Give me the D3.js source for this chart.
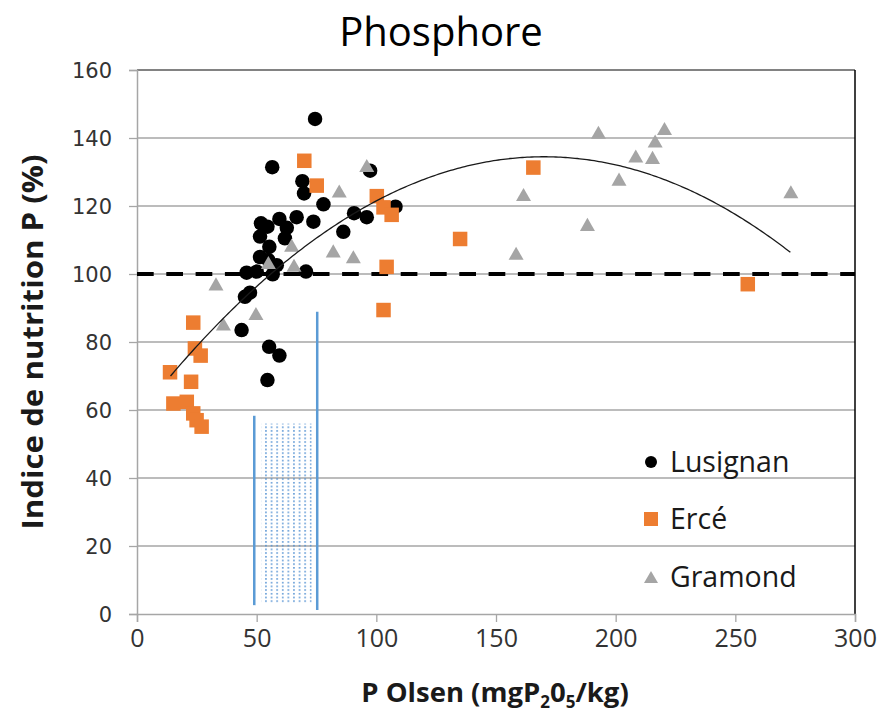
<!DOCTYPE html>
<html>
<head>
<meta charset="utf-8">
<script src="https://cdn.jsdelivr.net/npm/d3@7"></script>
<style>
  html, body { margin: 0; padding: 0; background: #fff; }
  svg { display: block; }
</style>
</head>
<body>
<svg id="chart" width="881" height="716"></svg>
<script>
// Site observations: [P Olsen (mg P2O5/kg), Indice de nutrition P (%)]
const lusignan = [
  [74.4,145.6],[56.5,131.4],[69.1,127.3],[69.8,123.7],[77.9,120.5],[97.4,130.4],
  [108,119.8],[59.5,116.2],[66.7,116.7],[73.7,115.4],[51.8,114.9],[54.5,113.9],
  [62.6,113.6],[51.4,111],[61.8,110.5],[55.3,108],[51.4,105],[54.9,104.1],
  [58.4,102.6],[45.8,100.4],[50,100.7],[56.7,99.9],[70.6,100.7],[86.2,112.4],
  [90.7,117.9],[96,116.7],[45.1,93.3],[47.2,94.5],[43.7,83.5],[55.2,78.6],
  [59.5,76],[54.5,68.8]
];
const erce = [
  [69.9,133.3],[75.1,126],[100.2,122.9],[103,119.6],[106.4,117.4],[104.3,102.1],
  [103,89.4],[23.5,85.7],[24.2,78.1],[26.6,76],[13.8,71.1],[22.6,68.3],
  [15.2,61.9],[20.8,62.4],[23.5,59],[24.9,57],[27,55.1],[165.6,131.3],
  [135,110.3],[255.2,97]
];
const gramond = [
  [192.8,141.7],[220.4,142.8],[216.5,139.1],[208.4,134.7],[215.4,134.3],
  [201.4,127.9],[161.5,123.4],[188.2,114.6],[158.4,106.1],[273.2,124.2],
  [96,131.9],[84.5,124.4],[64.6,108.5],[82,106.8],[90.4,105.1],[65.6,102.6],
  [54.9,103.4],[33,97.1],[49.7,88.4],[36.1,85.3]
];

// Polynomial (order 2) trend: y = a x^2 + b x + c, drawn over its data span
const trendCoef = { a: -0.00265, b: 0.901, c: 57.9 };
const trendSpan = [14, 273];

// Reference level and optimal P Olsen band
const referenceLevel = 100;
const bandLines = [ { x: 49, top: 58.3, bottom: 2.6 }, { x: 75.3, top: 88.9, bottom: 1.2 } ];
const bandFill = { x0: 52, x1: 73, y0: 3, y1: 56 };

const xTicks = [0, 50, 100, 150, 200, 250, 300];
const yTicks = [0, 20, 40, 60, 80, 100, 120, 140, 160];

const series = [
  { name: "Lusignan", data: lusignan, shape: "circle",   color: "#000000" },
  { name: "Ercé",     data: erce,     shape: "square",   color: "#ED7D31" },
  { name: "Gramond",  data: gramond,  shape: "triangle", color: "#A5A5A5" }
];

const svg = d3.select("#chart");
const margin = { left: 137, right: 26, top: 70, bottom: 102 };
const W = 881, H = 716;
const x = d3.scaleLinear().domain([0, 300]).range([margin.left, W - margin.right]);
const y = d3.scaleLinear().domain([0, 160]).range([H - margin.bottom, margin.top]);

// Pattern for the dotted band
const defs = svg.append("defs");
const pat = defs.append("pattern")
  .attr("id", "dots").attr("patternUnits", "userSpaceOnUse")
  .attr("width", 5.6).attr("height", 3.7);
pat.append("rect").attr("x", 2).attr("y", 1).attr("width", 1.5).attr("height", 1.5)
  .attr("fill", "#4A8BD0");

// Horizontal gridlines
svg.append("g").selectAll("line")
  .data(yTicks.filter(d => d > 0 && d < 160))
  .join("line")
  .attr("x1", x(0)).attr("x2", x(300))
  .attr("y1", d => y(d)).attr("y2", d => y(d))
  .attr("stroke", "#A6A6A6").attr("stroke-width", 1.3);

// Plot-area border (top and right)
svg.append("line").attr("x1", x(0)).attr("x2", x(300)).attr("y1", y(160)).attr("y2", y(160))
  .attr("stroke", "#595959").attr("stroke-width", 1.5);
svg.append("line").attr("x1", x(300)).attr("x2", x(300)).attr("y1", y(160)).attr("y2", y(0))
  .attr("stroke", "#000").attr("stroke-width", 1.5);

// Axes
const yAxis = svg.append("g").attr("transform", `translate(${x(0)},0)`)
  .call(d3.axisLeft(y).tickValues(yTicks).tickSize(8).tickPadding(17).tickFormat(d3.format("d")));
const xAxis = svg.append("g").attr("transform", `translate(0,${y(0)})`)
  .call(d3.axisBottom(x).tickValues(xTicks).tickSize(8).tickPadding(7).tickFormat(d3.format("d")));
[yAxis, xAxis].forEach(g => {
  g.select(".domain").attr("stroke", "#A6A6A6").attr("stroke-width", 1.5);
  g.selectAll(".tick line").attr("stroke", "#A6A6A6").attr("stroke-width", 1.3);
});
yAxis.selectAll("text").attr("font-family", "DejaVu Sans").attr("font-size", 21).attr("fill", "#333")
  .attr("dy", "0.36em");
xAxis.selectAll("text").attr("font-family", "'Liberation Sans Narrow', 'Open Sans', sans-serif")
  .attr("font-size", 25).attr("fill", "#333");

// Dashed reference line at 100 %
svg.append("line")
  .attr("x1", x(0)).attr("x2", x(300)).attr("y1", y(referenceLevel)).attr("y2", y(referenceLevel))
  .attr("stroke", "#000").attr("stroke-width", 4).attr("stroke-dasharray", "16.7 12.6");

// Markers
function drawMarker(sel, shape, color, size) {
  if (shape === "circle") {
    sel.append("circle").attr("r", size / 2).attr("fill", color);
  } else if (shape === "square") {
    sel.append("rect").attr("x", -size / 2).attr("y", -size / 2)
      .attr("width", size).attr("height", size).attr("fill", color);
  } else {
    const h = size * 0.87;
    sel.append("path")
      .attr("d", `M0,${-h / 2}L${size / 2},${h / 2}L${-size / 2},${h / 2}Z`)
      .attr("fill", color);
  }
}
series.forEach(s => {
  svg.append("g").selectAll("g")
    .data(s.data).join("g")
    .attr("transform", d => `translate(${x(d[0])},${y(d[1])})`)
    .each(function () { drawMarker(d3.select(this), s.shape, s.color, s.shape === "triangle" ? 15 : 14.5); });
});

// Trend curve
const trendX = d3.range(trendSpan[0], trendSpan[1] + 0.5, 1);
const trendPts = trendX.map(v => [v, trendCoef.a * v * v + trendCoef.b * v + trendCoef.c]);
svg.append("path")
  .attr("d", d3.line().x(d => x(d[0])).y(d => y(d[1]))(trendPts))
  .attr("fill", "none").attr("stroke", "#1a1a1a").attr("stroke-width", 1.3);

// Optimal band: dotted fill between two blue bars
svg.append("rect")
  .attr("x", x(bandFill.x0)).attr("y", y(bandFill.y1))
  .attr("width", x(bandFill.x1) - x(bandFill.x0)).attr("height", y(bandFill.y0) - y(bandFill.y1))
  .attr("fill", "url(#dots)");
svg.append("g").selectAll("line").data(bandLines).join("line")
  .attr("x1", d => x(d.x)).attr("x2", d => x(d.x))
  .attr("y1", d => y(d.top)).attr("y2", d => y(d.bottom))
  .attr("stroke", "#5B9BD5").attr("stroke-width", 2.5);

// Legend
const legend = svg.append("g").attr("transform", "translate(651,0)");
const legendY = [462, 519, 577];
series.forEach((s, i) => {
  const g = legend.append("g").attr("transform", `translate(0,${legendY[i]})`);
  drawMarker(g, s.shape, s.color, s.shape === "circle" ? 12 : 14);
  g.append("text").attr("x", 19).attr("y", 9.5)
    .attr("font-family", "'Open Sans', sans-serif").attr("font-size", 28.5).attr("fill", "#1a1a1a")
    .text(s.name);
});

// Title
svg.append("text").attr("x", 441).attr("y", 46).attr("text-anchor", "middle")
  .attr("font-family", "'Open Sans', sans-serif").attr("font-size", 40).attr("fill", "#000")
  .text("Phosphore");

// Y axis title
svg.append("text")
  .attr("transform", `translate(43,${(y(0) + y(160)) / 2}) rotate(-90)`)
  .attr("text-anchor", "middle")
  .attr("font-family", "'Open Sans', sans-serif").attr("font-weight", "bold")
  .attr("font-size", 28).attr("fill", "#1a1a1a")
  .attr("textLength", 375).attr("lengthAdjust", "spacingAndGlyphs")
  .text("Indice de nutrition P (%)");

// X axis title with subscripts
const xt = svg.append("text").attr("x", 495).attr("y", 702).attr("text-anchor", "middle")
  .attr("font-family", "'Open Sans', sans-serif").attr("font-weight", "bold")
  .attr("font-size", 27.5).attr("fill", "#1a1a1a");
xt.append("tspan").text("P Olsen (mgP");
xt.append("tspan").attr("font-size", 17).attr("dy", 6).text("2");
xt.append("tspan").attr("dy", -6).text("0");
xt.append("tspan").attr("font-size", 17).attr("dy", 6).text("5");
xt.append("tspan").attr("dy", -6).text("/kg)");
</script>
</body>
</html>
